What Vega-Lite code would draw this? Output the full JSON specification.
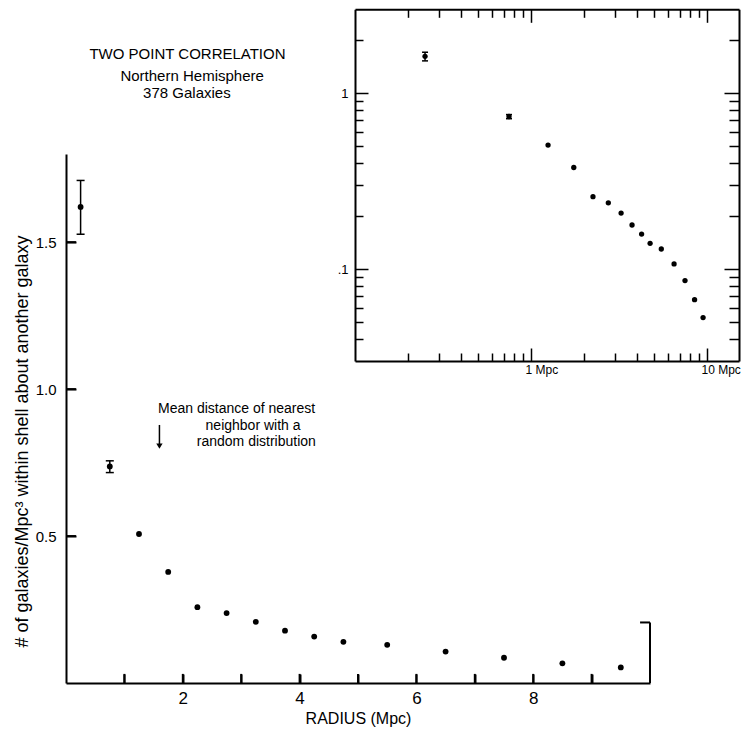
{
"$schema": "https://vega.github.io/schema/vega-lite/v6.json",
"width": 584,
"height": 529,
"autosize": {"type": "none"},
"padding": {"left": 66, "top": 154, "right": 91, "bottom": 47},
"background": "white",
"config": {
  "view": {"stroke": null},
  "font": "Liberation Sans",
  "axis": {"domainColor": "black", "tickColor": "black", "labelColor": "black", "titleColor": "black", "grid": false, "titleFontWeight": "normal", "labelFont": "Liberation Sans", "titleFont": "Liberation Sans", "labelFlush": false, "labelOverlap": false}
},
"datasets": {
  "gal": [
    {"r": 0.25, "v": 1.62, "lo": 1.527, "hi": 1.71},
    {"r": 0.75, "v": 0.737, "lo": 0.716, "hi": 0.756},
    {"r": 1.25, "v": 0.507},
    {"r": 1.75, "v": 0.378},
    {"r": 2.25, "v": 0.258},
    {"r": 2.75, "v": 0.238},
    {"r": 3.25, "v": 0.208},
    {"r": 3.75, "v": 0.178},
    {"r": 4.25, "v": 0.158},
    {"r": 4.75, "v": 0.140},
    {"r": 5.5, "v": 0.130},
    {"r": 6.5, "v": 0.107},
    {"r": 7.5, "v": 0.086},
    {"r": 8.5, "v": 0.067},
    {"r": 9.5, "v": 0.053}
  ],
  "mtx": [
    {"t": 1, "y0": 0, "y1": 0.031}, {"t": 2, "y0": 0, "y1": 0.031}, {"t": 3, "y0": 0, "y1": 0.031},
    {"t": 4, "y0": 0, "y1": 0.031}, {"t": 5, "y0": 0, "y1": 0.031}, {"t": 6, "y0": 0, "y1": 0.031},
    {"t": 7, "y0": 0, "y1": 0.031}, {"t": 8, "y0": 0, "y1": 0.031}, {"t": 9, "y0": 0, "y1": 0.031}
  ],
  "mty": [
    {"t": 0.5, "x0": 0, "x1": 0.17}, {"t": 1.0, "x0": 0, "x1": 0.17}, {"t": 1.5, "x0": 0, "x1": 0.17}
  ],
  "bracket": [
    {"bx": 10, "bx2": 10, "by": 0, "by2": 0.206},
    {"bx": 9.83, "bx2": 10, "by": 0.206, "by2": 0.206}
  ],
  "header": [
    {"tx": 2.08, "ty": 2.14, "label": "TWO POINT CORRELATION"},
    {"tx": 2.16, "ty": 2.066, "label": "Northern Hemisphere"},
    {"tx": 2.07, "ty": 2.006, "label": "378 Galaxies"}
  ],
  "note": [
    {"tx": 1.575, "ty": 0.932, "label": "Mean distance of nearest"},
    {"tx": 2.39, "ty": 0.874, "label": "neighbor with a"},
    {"tx": 2.24, "ty": 0.820, "label": "random distribution"}
  ],
  "arrow": [{"ax": 1.6, "top": 0.878, "tip": 0.806}]
},
"resolve": {"scale": {"x": "independent", "y": "independent"}},
"layer": [
  {
    "resolve": {"axis": {"x": "independent", "y": "independent"}},
    "layer": [
      {
        "data": {"name": "gal"},
        "mark": {"type": "circle", "size": 34, "color": "black", "opacity": 1},
        "encoding": {
          "x": {"field": "r", "type": "quantitative", "scale": {"domain": [0, 10], "nice": false, "zero": false},
                "axis": {"orient": "bottom", "values": [2,4,6,8], "ticks": false, "domainWidth": 2, "labelPadding": 7, "labelFontSize": 17, "title": "RADIUS (Mpc)", "titleFontSize": 16, "titlePadding": 4}},
          "y": {"field": "v", "type": "quantitative", "scale": {"domain": [0, 1.8], "nice": false, "zero": false},
                "axis": {"orient": "left", "values": [0.5, 1, 1.5], "format": ".1f", "ticks": false, "domainWidth": 2, "labelPadding": 10, "labelFontSize": 15, "title": "# of galaxies/Mpc³ within shell about another galaxy", "titleFontSize": 18, "titlePadding": 4, "titleY": 287}}
        }
      },
      {
        "data": {"name": "gal"},
        "mark": {"type": "circle", "size": 10, "opacity": 0},
        "encoding": {
          "x": {"field": "r", "type": "quantitative", "scale": {"domain": [0, 10], "nice": false, "zero": false},
                "axis": {"orient": "top", "offset": -529, "values": [1,2,3,4,5,6,7,8,9], "ticks": true, "tickSize": 9, "tickWidth": 2, "tickColor": "black", "tickOpacity": 1, "domain": false, "labels": false, "title": null}},
          "y": {"field": "v", "type": "quantitative", "scale": {"domain": [0, 1.8], "nice": false, "zero": false},
                "axis": {"orient": "right", "offset": -584, "values": [0.5, 1, 1.5], "ticks": true, "tickSize": 10, "tickWidth": 2, "tickColor": "black", "tickOpacity": 1, "domain": false, "labels": false, "title": null}}
        }
      },
      {
        "data": {"name": "mtx"},
        "mark": {"type": "rule", "color": "black", "strokeWidth": 2},
        "encoding": {
          "x": {"field": "t", "type": "quantitative", "scale": {"domain": [0, 10], "nice": false, "zero": false}, "axis": null},
          "y": {"field": "y0", "type": "quantitative", "scale": {"domain": [0, 1.8], "nice": false, "zero": false}, "axis": null},
          "y2": {"field": "y1"}
        }
      },
      {
        "data": {"name": "mty"},
        "mark": {"type": "rule", "color": "black", "strokeWidth": 2},
        "encoding": {
          "x": {"field": "x0", "type": "quantitative", "scale": {"domain": [0, 10], "nice": false, "zero": false}, "axis": null},
          "x2": {"field": "x1"},
          "y": {"field": "t", "type": "quantitative", "scale": {"domain": [0, 1.8], "nice": false, "zero": false}, "axis": null}
        }
      },
      {
        "data": {"name": "gal"},
        "transform": [{"filter": "isValid(datum.lo)"}],
        "mark": {"type": "rule", "color": "black", "strokeWidth": 1.5},
        "encoding": {
          "x": {"field": "r", "type": "quantitative", "scale": {"domain": [0, 10], "nice": false, "zero": false}, "axis": null},
          "y": {"field": "lo", "type": "quantitative", "scale": {"domain": [0, 1.8], "nice": false, "zero": false}, "axis": null},
          "y2": {"field": "hi"}
        }
      },
      {
        "data": {"name": "gal"},
        "transform": [{"filter": "isValid(datum.lo)"}, {"fold": ["lo", "hi"], "as": ["k", "val"]}],
        "mark": {"type": "tick", "orient": "horizontal", "size": 8, "thickness": 1.5, "color": "black", "opacity": 1},
        "encoding": {
          "x": {"field": "r", "type": "quantitative", "scale": {"domain": [0, 10], "nice": false, "zero": false}, "axis": null},
          "y": {"field": "val", "type": "quantitative", "scale": {"domain": [0, 1.8], "nice": false, "zero": false}, "axis": null}
        }
      },
      {
        "data": {"name": "bracket"},
        "mark": {"type": "rule", "color": "black", "strokeWidth": 2},
        "encoding": {
          "x": {"field": "bx", "type": "quantitative", "scale": {"domain": [0, 10], "nice": false, "zero": false}, "axis": null},
          "x2": {"field": "bx2"},
          "y": {"field": "by", "type": "quantitative", "scale": {"domain": [0, 1.8], "nice": false, "zero": false}, "axis": null},
          "y2": {"field": "by2"}
        }
      },
      {
        "data": {"name": "header"},
        "mark": {"type": "text", "align": "center", "baseline": "middle", "fontSize": 15, "color": "black", "font": "Liberation Sans"},
        "encoding": {
          "x": {"field": "tx", "type": "quantitative", "scale": {"domain": [0, 10], "nice": false, "zero": false}, "axis": null},
          "y": {"field": "ty", "type": "quantitative", "scale": {"domain": [0, 1.8], "nice": false, "zero": false}, "axis": null},
          "text": {"field": "label"}
        }
      },
      {
        "data": {"name": "note"},
        "mark": {"type": "text", "align": "left", "baseline": "middle", "fontSize": 14, "color": "black", "font": "Liberation Sans"},
        "encoding": {
          "x": {"field": "tx", "type": "quantitative", "scale": {"domain": [0, 10], "nice": false, "zero": false}, "axis": null},
          "y": {"field": "ty", "type": "quantitative", "scale": {"domain": [0, 1.8], "nice": false, "zero": false}, "axis": null},
          "text": {"field": "label"}
        }
      },
      {
        "data": {"name": "arrow"},
        "mark": {"type": "rule", "color": "black", "strokeWidth": 1.5},
        "encoding": {
          "x": {"field": "ax", "type": "quantitative", "scale": {"domain": [0, 10], "nice": false, "zero": false}, "axis": null},
          "y": {"field": "top", "type": "quantitative", "scale": {"domain": [0, 1.8], "nice": false, "zero": false}, "axis": null},
          "y2": {"field": "tip"}
        }
      },
      {
        "data": {"name": "arrow"},
        "mark": {"type": "point", "shape": "triangle-down", "filled": true, "size": 40, "color": "black", "opacity": 1},
        "encoding": {
          "x": {"field": "ax", "type": "quantitative", "scale": {"domain": [0, 10], "nice": false, "zero": false}, "axis": null},
          "y": {"field": "tip", "type": "quantitative", "scale": {"domain": [0, 1.8], "nice": false, "zero": false}, "axis": null}
        }
      }
    ]
  },
  {
    "resolve": {"axis": {"x": "independent", "y": "independent"}},
    "layer": [
      {
        "data": {"name": "gal"},
        "mark": {"type": "circle", "size": 28, "color": "black", "opacity": 1},
        "encoding": {
          "x": {"field": "r", "type": "quantitative", "scale": {"type": "log", "domain": [0.1, 15.2], "range": [289, 673], "nice": false},
                "axis": {"orient": "bottom", "offset": -322, "values": [1, 10], "ticks": false, "domainWidth": 2, "labelExpr": "datum.value == 1 ? '1 Mpc' : '10 Mpc'", "labelAlign": "left", "labelOffset": -6, "labelPadding": 3, "labelFontSize": 12, "title": null}},
          "y": {"field": "v", "type": "quantitative", "scale": {"type": "log", "domain": [0.03, 3], "range": [207, -144.7], "nice": false},
                "axis": {"orient": "left", "offset": -289, "values": [1, 0.1], "ticks": false, "domainWidth": 2, "labelExpr": "datum.value == 1 ? '1' : '.1'", "labelPadding": 7, "labelFontSize": 13, "title": null}}
        }
      },
      {
        "data": {"name": "gal"},
        "mark": {"type": "circle", "size": 10, "opacity": 0},
        "encoding": {
          "x": {"field": "r", "type": "quantitative", "scale": {"type": "log", "domain": [0.1, 15.2], "range": [289, 673], "nice": false},
                "axis": {"orient": "top", "offset": 144.7, "values": [1, 10], "ticks": false, "domainWidth": 2, "labels": false, "title": null}},
          "y": {"field": "v", "type": "quantitative", "scale": {"type": "log", "domain": [0.03, 3], "range": [207, -144.7], "nice": false},
                "axis": {"orient": "right", "offset": 89, "values": [1, 0.1], "ticks": false, "domainWidth": 2, "labels": false, "title": null}}
        }
      },
      {
        "data": {"name": "gal"},
        "transform": [{"filter": "isValid(datum.lo)"}],
        "mark": {"type": "rule", "color": "black", "strokeWidth": 1.5},
        "encoding": {
          "x": {"field": "r", "type": "quantitative", "scale": {"type": "log", "domain": [0.1, 15.2], "range": [289, 673], "nice": false}, "axis": null},
          "y": {"field": "lo", "type": "quantitative", "scale": {"type": "log", "domain": [0.03, 3], "range": [207, -144.7], "nice": false}, "axis": null},
          "y2": {"field": "hi"}
        }
      },
      {
        "data": {"name": "gal"},
        "transform": [{"filter": "isValid(datum.lo)"}, {"fold": ["lo", "hi"], "as": ["k", "val"]}],
        "mark": {"type": "tick", "orient": "horizontal", "size": 6, "thickness": 1.5, "color": "black", "opacity": 1},
        "encoding": {
          "x": {"field": "r", "type": "quantitative", "scale": {"type": "log", "domain": [0.1, 15.2], "range": [289, 673], "nice": false}, "axis": null},
          "y": {"field": "val", "type": "quantitative", "scale": {"type": "log", "domain": [0.03, 3], "range": [207, -144.7], "nice": false}, "axis": null}
        }
      },
      {
        "data": {"name": "gal"},
        "mark": {"type": "circle", "size": 10, "opacity": 0},
        "encoding": {
          "x": {"field": "r", "type": "quantitative", "scale": {"type": "log", "domain": [0.1, 15.2], "range": [289, 673], "nice": false},
                "axis": {"orient": "top", "offset": -207, "values": [0.2,0.3,0.4,0.5,0.6,0.7,0.8,0.9,2,3,4,5,6,7,8,9], "ticks": true, "tickSize": 8, "tickWidth": 1.5, "tickColor": "black", "tickOpacity": 1, "domain": false, "labels": false, "title": null}},
          "y": {"field": "v", "type": "quantitative", "scale": {"type": "log", "domain": [0.03, 3], "range": [207, -144.7], "nice": false},
                "axis": {"orient": "right", "offset": -295, "values": [2,0.9,0.8,0.7,0.6,0.5,0.4,0.3,0.2,0.09,0.08,0.07,0.06,0.05,0.04], "ticks": true, "tickSize": 8, "tickWidth": 1.5, "tickColor": "black", "tickOpacity": 1, "domain": false, "labels": false, "title": null}}
        }
      },
      {
        "data": {"name": "gal"},
        "mark": {"type": "circle", "size": 10, "opacity": 0},
        "encoding": {
          "x": {"field": "r", "type": "quantitative", "scale": {"type": "log", "domain": [0.1, 15.2], "range": [289, 673], "nice": false},
                "axis": {"orient": "top", "offset": -207, "values": [1, 10], "ticks": true, "tickSize": 13, "tickWidth": 1.5, "tickColor": "black", "tickOpacity": 1, "domain": false, "labels": false, "title": null}},
          "y": {"field": "v", "type": "quantitative", "scale": {"type": "log", "domain": [0.03, 3], "range": [207, -144.7], "nice": false},
                "axis": {"orient": "right", "offset": -295, "values": [1, 0.1], "ticks": true, "tickSize": 13, "tickWidth": 1.5, "tickColor": "black", "tickOpacity": 1, "domain": false, "labels": false, "title": null}}
        }
      },
      {
        "data": {"name": "gal"},
        "mark": {"type": "circle", "size": 10, "opacity": 0},
        "encoding": {
          "x": {"field": "r", "type": "quantitative", "scale": {"type": "log", "domain": [0.1, 15.2], "range": [289, 673], "nice": false},
                "axis": {"orient": "bottom", "offset": -673.7, "values": [0.2,0.3,0.4,0.5,0.6,0.7,0.8,0.9,2,3,4,5,6,7,8,9], "ticks": true, "tickSize": 8, "tickWidth": 1.5, "tickColor": "black", "tickOpacity": 1, "domain": false, "labels": false, "title": null}},
          "y": {"field": "v", "type": "quantitative", "scale": {"type": "log", "domain": [0.03, 3], "range": [207, -144.7], "nice": false},
                "axis": {"orient": "left", "offset": -673, "values": [2,0.9,0.8,0.7,0.6,0.5,0.4,0.3,0.2,0.09,0.08,0.07,0.06,0.05,0.04], "ticks": true, "tickSize": 10, "tickWidth": 1.5, "tickColor": "black", "tickOpacity": 1, "domain": false, "labels": false, "title": null}}
        }
      },
      {
        "data": {"name": "gal"},
        "mark": {"type": "circle", "size": 10, "opacity": 0},
        "encoding": {
          "x": {"field": "r", "type": "quantitative", "scale": {"type": "log", "domain": [0.1, 15.2], "range": [289, 673], "nice": false},
                "axis": {"orient": "bottom", "offset": -673.7, "values": [1, 10], "ticks": true, "tickSize": 13, "tickWidth": 1.5, "tickColor": "black", "tickOpacity": 1, "domain": false, "labels": false, "title": null}},
          "y": {"field": "v", "type": "quantitative", "scale": {"type": "log", "domain": [0.03, 3], "range": [207, -144.7], "nice": false},
                "axis": {"orient": "left", "offset": -673, "values": [1, 0.1], "ticks": true, "tickSize": 15, "tickWidth": 1.5, "tickColor": "black", "tickOpacity": 1, "domain": false, "labels": false, "title": null}}
        }
      }
    ]
  }
]
}
